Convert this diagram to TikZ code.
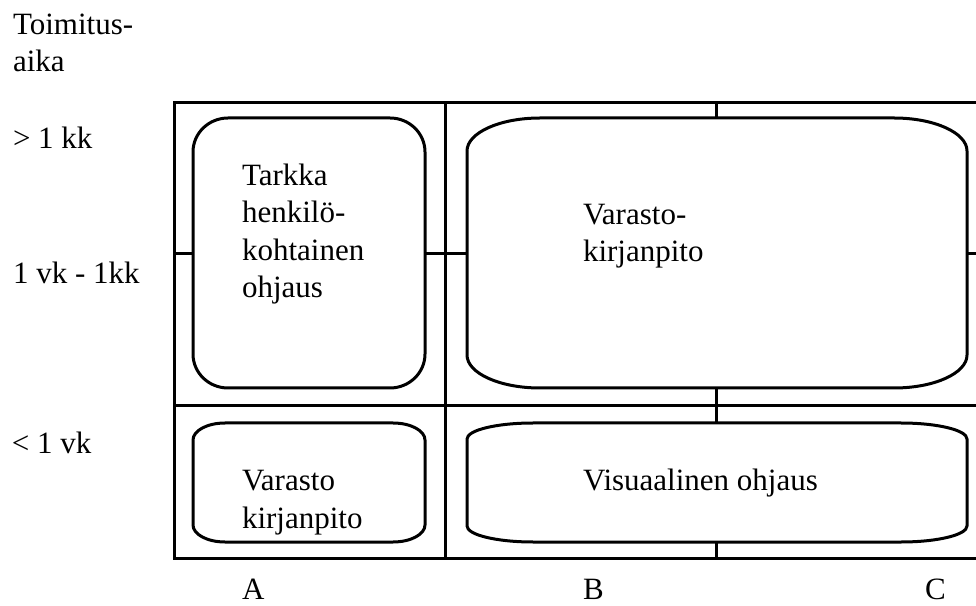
\documentclass[tikz,border=0pt]{standalone}
\usepackage{fontspec}
\setmainfont{Liberation Serif}
\begin{document}
\begin{tikzpicture}[x=1pt,y=1pt,
  gridline/.style={line width=3pt,black},
  boxline/.style={line width=3pt,black,line join=round},
  area/.style={rectangle,draw=none,inner sep=0pt,outer sep=0pt},
  lbl/.style={anchor=base west,inner sep=0pt,outer sep=0pt,align=left,
    font=\fontsize{31}{37.5}\selectfont}]
\newcommand\ebox[3]{%
  \draw[boxline] ([xshift=#2]#1.south west) -- ([xshift=-#2]#1.south east)
    arc[start angle=-90,end angle=0,x radius=#2,y radius=#3]
    -- ([yshift=-#3]#1.north east)
    arc[start angle=0,end angle=90,x radius=#2,y radius=#3]
    -- ([xshift=#2]#1.north west)
    arc[start angle=90,end angle=180,x radius=#2,y radius=#3]
    -- ([yshift=#3]#1.south west)
    arc[start angle=180,end angle=270,x radius=#2,y radius=#3] -- cycle;}
\useasboundingbox (0,0) rectangle (976,605);
\clip (0,0) rectangle (976,605);
\fill[white] (0,0) rectangle (976,605);

% grid
\node[area,draw,gridline,minimum width=816pt,minimum height=455pt] (grid) at (582,274.5) {};
\coordinate (divx) at (445,0);
\coordinate (divy) at (0,199);
\draw[gridline] (divx |- grid.north) -- (divx |- grid.south);
\draw[gridline] (grid.west |- divy) -- (grid.east |- divy);

% boxes
\node[area,minimum width=232pt,minimum height=270pt] (bigL) at (309,352) {};
\node[area,minimum width=500pt,minimum height=270pt] (bigR) at (717,352) {};
\node[area,minimum width=232pt,minimum height=119pt] (botL) at (309,122.5) {};
\node[area,minimum width=500pt,minimum height=119pt] (botR) at (717,122.5) {};
\ebox{bigL}{35pt}{34pt}
\ebox{bigR}{73pt}{33pt}
\ebox{botL}{32pt}{17pt}
\ebox{botR}{66pt}{16pt}

% ticks
\coordinate (hy) at (0,351);
\coordinate (vx) at (716,0);
\draw[gridline] (grid.west |- hy) -- (bigL.west |- hy);
\draw[gridline] (bigL.east |- hy) -- (bigR.west |- hy);
\draw[gridline] (bigR.east |- hy) -- (grid.east |- hy);
\draw[gridline] (vx |- grid.north) -- (vx |- bigR.north);
\draw[gridline] (vx |- bigR.south) -- (vx |- botR.north);
\draw[gridline] (vx |- botR.south) -- (vx |- grid.south);

% labels (multi-line nodes: base = last line's baseline)
\node[lbl] (axis) at (13,533) {Toimitus-\\aika};
\node[lbl] (r1) at (13,456) {> 1 kk};
\node[lbl] (r2) at (13,321) {1 vk - 1kk};
\node[lbl] (r3) at (12,152) {< 1 vk};
\node[lbl] (t1) at (242,307) {Tarkka\\henkilö-\\kohtainen\\ohjaus};
\node[lbl] (t2) at (583,343) {Varasto-\\kirjanpito};
\node[lbl] (t3) at (242,77) {Varasto\\kirjanpito};
\node[lbl] (t4) at (583,115) {Visuaalinen ohjaus};
\node[lbl] (cA) at (242,6) {A};
\node[lbl] (cB) at (583,6) {B};
\node[lbl] (cC) at (925,6) {C};
\end{tikzpicture}
\end{document}
